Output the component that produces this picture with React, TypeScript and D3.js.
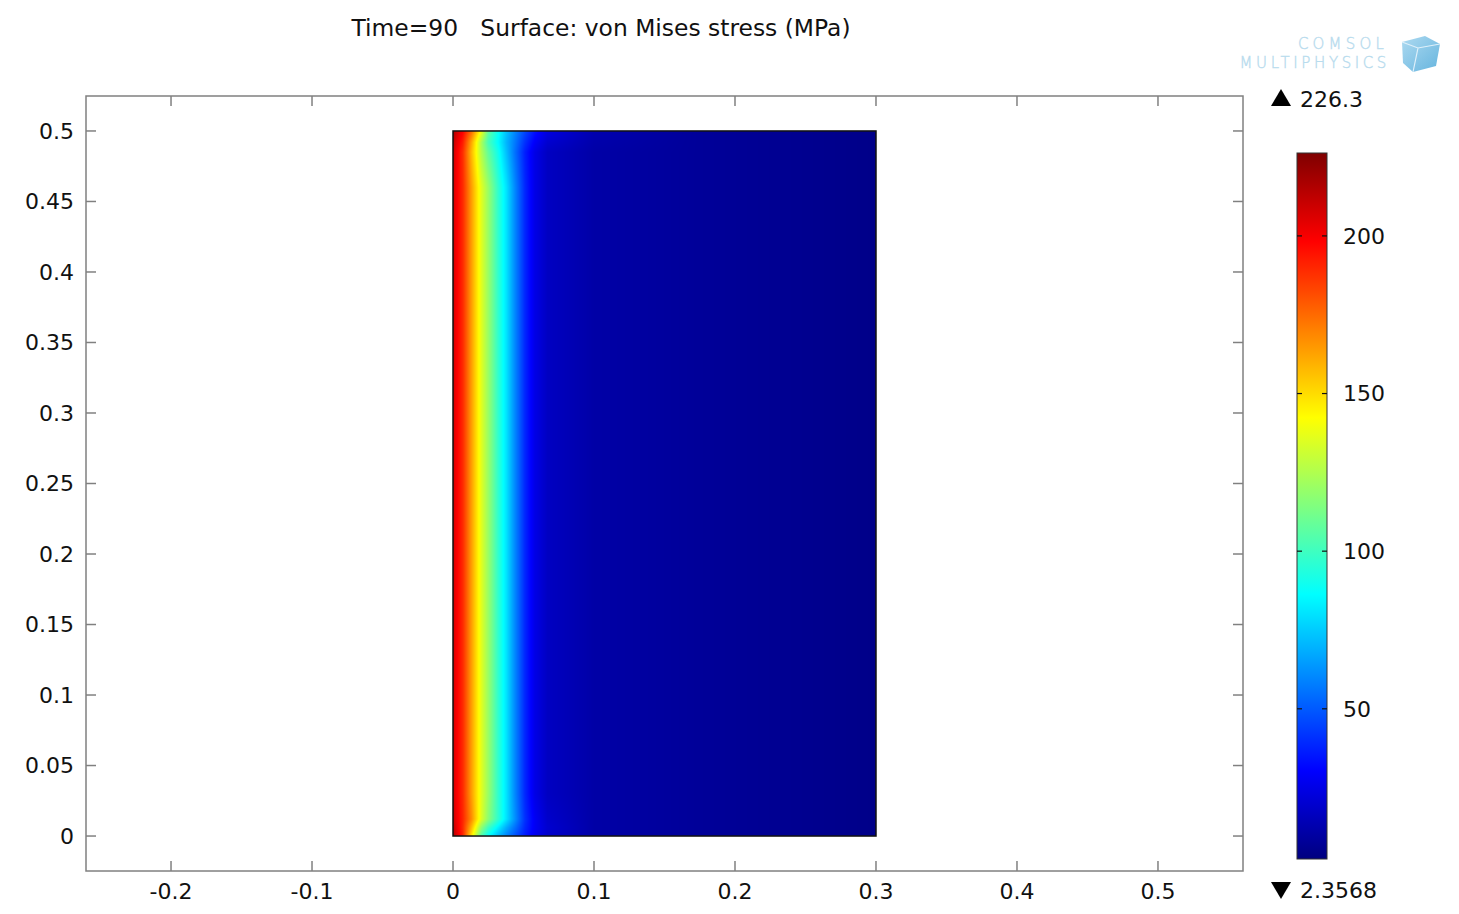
import React, { useMemo } from "react";
import * as d3 from "d3";

// ---- Data ----
const titleText = "Time=90   Surface: von Mises stress (MPa)";
const xTicks = [-0.2, -0.1, 0, 0.1, 0.2, 0.3, 0.4, 0.5];
const yTicks = [0, 0.05, 0.1, 0.15, 0.2, 0.25, 0.3, 0.35, 0.4, 0.45, 0.5];
const colorTicks = [50, 100, 150, 200];
const stressMax = 226.3;
const stressMin = 2.3568;
const domainWidth = 0.3;
const domainHeight = 0.5;

// sample positions across the block (m)
const sampleX = [0, 0.002, 0.007, 0.013, 0.02, 0.025, 0.032, 0.038, 0.044, 0.051, 0.058, 0.067, 0.1, 0.175, 0.3];
// heights of the sampled rows (m)
const sampleY = [0, 0.006, 0.012, 0.03, 0.46, 0.485, 0.492, 0.5];
// stress (MPa) along each sampled row
const rowY000 = [216, 208, 190, 148, 104, 87, 71, 59, 48, 36, 27, 19, 11, 8, 4.5];
const rowY006 = [213, 205, 189, 158, 118, 100, 83, 68, 55, 39, 28, 20, 11, 8, 4.5];
const rowY012 = [211, 203, 190, 168, 135, 117, 97, 80, 62, 41, 28, 19, 11, 8, 4.5];
const rowY030 = [209, 201, 189, 164, 136, 120, 97, 80, 60, 39, 25, 17, 11, 8, 4.5];
const rowY460 = [209, 201, 189, 164, 136, 120, 97, 80, 60, 39, 25, 17, 11, 8, 4.5];
const rowY485 = [210, 202, 188, 158, 126, 108, 90, 72, 55, 37, 25, 17, 11, 8, 4.5];
const rowY492 = [213, 205, 192, 162, 124, 102, 86, 70, 57, 41, 29, 20, 12, 8, 4.5];
const rowY500 = [217, 210, 198, 175, 139, 108, 88, 73, 60, 46, 34, 24, 13, 8, 4.5];
const sampleRows = [rowY000, rowY006, rowY012, rowY030, rowY460, rowY485, rowY492, rowY500];

// jet-like colour map stops (fractions of range)
const cmapStops = [0, 0.125, 0.375, 0.625, 0.875, 1];
const cmapColors = ["#00007f", "#0000ff", "#00ffff", "#ffff00", "#ff0000", "#7f0000"];

const W = 1459;
const H = 914;
const plot = { left: 86, right: 1243, top: 96, bottom: 871 };
const FONT = "'DejaVu Sans', Verdana, sans-serif";

export default function App() {
  const x = d3.scaleLinear().domain([-0.2603, 0.5603]).range([plot.left, plot.right]);
  const y = d3.scaleLinear().domain([-0.0248, 0.5248]).range([plot.bottom, plot.top]);

  const color = d3
    .scaleLinear<string>()
    .domain(cmapStops.map((s) => stressMin + s * (stressMax - stressMin)))
    .range(cmapColors)
    .interpolate(d3.interpolateRgb)
    .clamp(true);

  const x0 = x(0), x1 = x(domainWidth);
  const yTop = y(domainHeight), yBot = y(0);
  const imgW = Math.round(x1 - x0);
  const imgH = Math.round(yBot - yTop);

  const dataUrl = useMemo(() => {
    const canvas = document.createElement("canvas");
    canvas.width = imgW;
    canvas.height = imgH;
    const ctx = canvas.getContext("2d");
    if (!ctx) return "";
    const img = ctx.createImageData(imgW, imgH);
    const rowScales = sampleRows.map((r) => d3.scaleLinear().domain(sampleX).range(r).clamp(true));
    const px2x = d3.scaleLinear().domain([0, imgW]).range([0, domainWidth]);
    const px2y = d3.scaleLinear().domain([0, imgH]).range([domainHeight, 0]);
    for (let j = 0; j < imgH; j++) {
      const yy = px2y(j + 0.5);
      let k = d3.bisectRight(sampleY, yy) - 1;
      k = Math.max(0, Math.min(sampleY.length - 2, k));
      const t = Math.max(0, Math.min(1, (yy - sampleY[k]) / (sampleY[k + 1] - sampleY[k])));
      for (let i = 0; i < imgW; i++) {
        const xx = px2x(i + 0.5);
        const v = rowScales[k](xx) * (1 - t) + rowScales[k + 1](xx) * t;
        const c = d3.rgb(color(v));
        const idx = (j * imgW + i) * 4;
        img.data[idx] = c.r;
        img.data[idx + 1] = c.g;
        img.data[idx + 2] = c.b;
        img.data[idx + 3] = 255;
      }
    }
    ctx.putImageData(img, 0, 0);
    return canvas.toDataURL();
  }, []);

  // colour bar
  const cb = { left: 1297, right: 1327 };
  const cbY = d3.scaleLinear().domain([stressMin, stressMax]).range([859, 153]);
  const gradStops = d3.range(0, 41).map((i) => i / 40);

  const tickLen = 10;
  const fmt = (v: number) => d3.format(".2~f")(v).replace("\u2212", "-");

  return (
    <svg width={W} height={H} style={{ position: "absolute", left: 0, top: 0, background: "#fff" }} fontFamily={FONT}>
      <defs>
        <linearGradient id="cbGrad" x1="0" y1="1" x2="0" y2="0">
          {gradStops.map((s) => (
            <stop key={s} offset={s} stopColor={color(stressMin + s * (stressMax - stressMin))} />
          ))}
        </linearGradient>
        <linearGradient id="logoGrad" x1="0" y1="0" x2="1" y2="1">
          <stop offset="0" stopColor="#9fd3ee" />
          <stop offset="1" stopColor="#4aa7d8" />
        </linearGradient>
      </defs>
      <rect width={W} height={H} fill="#fff" />

      {/* title */}
      <text x={601} y={36} textAnchor="middle" fontSize={23.4} fill="#111" style={{ whiteSpace: "pre" }}>
        {titleText}
      </text>

      {/* logo */}
      <g fill="#b9dcee" fontSize={15} fontWeight={300}>
        <text x={1388} y={49} textAnchor="end" letterSpacing={4.2} stroke="#b9dcee" strokeWidth={0.4}>COMSOL</text>
        <text x={1390} y={68} textAnchor="end" letterSpacing={3.6} stroke="#b9dcee" strokeWidth={0.4}>MULTIPHYSICS</text>
      </g>
      <g>
        <path d="M1402,42 L1425,36 L1440,44 L1436,66 L1413,72 L1403,63 Z" fill="url(#logoGrad)" opacity={0.85} />
        <path d="M1402,42 L1418,48 L1440,44 M1418,48 L1413,72" stroke="#dff0fa" strokeWidth={1.2} fill="none" />
      </g>

      {/* stress field */}
      <image href={dataUrl} x={x0} y={yTop} width={imgW} height={imgH} preserveAspectRatio="none" />
      <rect x={x0} y={yTop} width={x1 - x0} height={yBot - yTop} fill="none" stroke="#111" strokeWidth={1.5} />

      {/* frame */}
      <rect x={plot.left} y={plot.top} width={plot.right - plot.left} height={plot.bottom - plot.top} fill="none" stroke="#808080" strokeWidth={1.5} />
      {xTicks.map((t) => (
        <g key={"xt" + t}>
          <line x1={x(t)} x2={x(t)} y1={plot.bottom} y2={plot.bottom - tickLen} stroke="#808080" strokeWidth={1.5} />
          <line x1={x(t)} x2={x(t)} y1={plot.top} y2={plot.top + tickLen} stroke="#808080" strokeWidth={1.5} />
          <text x={x(t)} y={899} textAnchor="middle" fontSize={22} fill="#111">{fmt(t)}</text>
        </g>
      ))}
      {yTicks.map((t) => (
        <g key={"yt" + t}>
          <line x1={plot.left} x2={plot.left + tickLen} y1={y(t)} y2={y(t)} stroke="#808080" strokeWidth={1.5} />
          <line x1={plot.right} x2={plot.right - tickLen} y1={y(t)} y2={y(t)} stroke="#808080" strokeWidth={1.5} />
          <text x={74} y={y(t)} dy="0.36em" textAnchor="end" fontSize={22} fill="#111">{fmt(t)}</text>
        </g>
      ))}

      {/* colour bar */}
      <rect x={cb.left} y={cbY(stressMax)} width={cb.right - cb.left} height={cbY(stressMin) - cbY(stressMax)} fill="url(#cbGrad)" stroke="#333" strokeWidth={1} />
      {colorTicks.map((t) => (
        <g key={"ct" + t}>
          <line x1={cb.left} x2={cb.left + 5} y1={cbY(t)} y2={cbY(t)} stroke="#111" strokeWidth={1.2} />
          <line x1={cb.right} x2={cb.right - 5} y1={cbY(t)} y2={cbY(t)} stroke="#111" strokeWidth={1.2} />
          <text x={1343} y={cbY(t)} dy="0.36em" fontSize={22} fill="#111">{t}</text>
        </g>
      ))}
      <path d="M1271,106 L1281,89 L1291,106 Z" fill="#000" />
      <text x={1300} y={107} fontSize={22} fill="#111">{stressMax}</text>
      <path d="M1271,882 L1291,882 L1281,899 Z" fill="#000" />
      <text x={1300} y={898} fontSize={22} fill="#111">{stressMin}</text>
    </svg>
  );
}
